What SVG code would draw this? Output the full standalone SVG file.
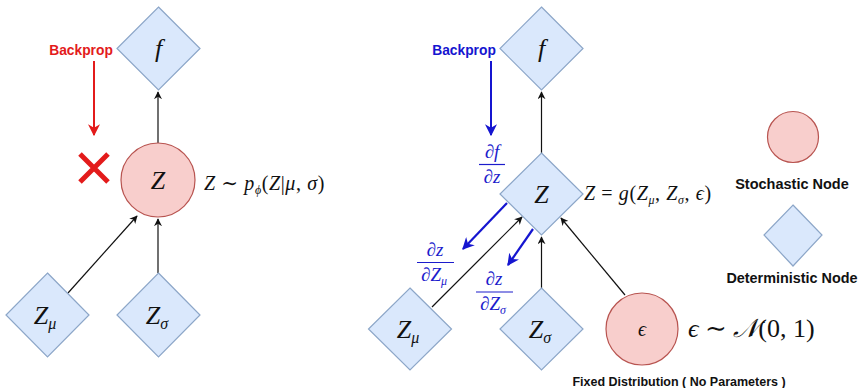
<svg xmlns="http://www.w3.org/2000/svg" width="861" height="388" viewBox="0 0 861 388">
<style>
.det{fill:#dae8fc;stroke:#8ca6c8;stroke-width:1.2}
.sto{fill:#f8cecc;stroke:#b85450;stroke-width:1.2}
.m{font-family:"Liberation Serif","DejaVu Serif",serif;font-style:italic;fill:#111}
.r{font-family:"Liberation Serif","DejaVu Serif",serif;font-style:normal}
.lbl{font-family:"Liberation Sans",Arial,sans-serif;font-weight:bold;fill:#111}
.blue{fill:#1c1ccc}
.conn{stroke:#111;stroke-width:1.2;fill:none}
</style>
<defs>
<marker id="ab" viewBox="0 0 10 10" refX="9" refY="5" markerWidth="8" markerHeight="8" orient="auto" markerUnits="userSpaceOnUse"><path d="M0,0 L10,5 L0,10 L3,5 z" fill="#111"/></marker>
<marker id="ar" viewBox="0 0 10 10" refX="9" refY="5" markerWidth="12" markerHeight="12" orient="auto" markerUnits="userSpaceOnUse"><path d="M0,0 L10,5 L0,10 L3,5 z" fill="#e31b1b"/></marker>
<marker id="abl" viewBox="0 0 10 10" refX="9" refY="5" markerWidth="12" markerHeight="12" orient="auto" markerUnits="userSpaceOnUse"><path d="M0,0 L10,5 L0,10 L3,5 z" fill="#1515d0"/></marker>
</defs>
<rect width="861" height="388" fill="#fff"/>

<g id="connectors">
<line class="conn" x1="158" y1="143" x2="158" y2="92" marker-end="url(#ab)"/>
<line class="conn" x1="68" y1="293" x2="137" y2="216" marker-end="url(#ab)"/>
<line class="conn" x1="158" y1="273" x2="158" y2="219" marker-end="url(#ab)"/>
<line x1="94" y1="61" x2="94" y2="135" stroke="#e31b1b" stroke-width="2" marker-end="url(#ar)"/>
<line class="conn" x1="541.5" y1="153" x2="541.5" y2="92" marker-end="url(#ab)"/>
<line class="conn" x1="432" y1="307" x2="522" y2="217" marker-end="url(#ab)"/>
<line class="conn" x1="541.5" y1="288" x2="541.5" y2="237" marker-end="url(#ab)"/>
<line class="conn" x1="625" y1="295" x2="561" y2="218" marker-end="url(#ab)"/>
<line x1="491" y1="61" x2="491" y2="135" stroke="#1515d0" stroke-width="2" marker-end="url(#abl)"/>
<line x1="507" y1="203" x2="463" y2="249" stroke="#1515d0" stroke-width="2.2" marker-end="url(#abl)"/>
<line x1="533" y1="229" x2="508" y2="265" stroke="#1515d0" stroke-width="2.2" marker-end="url(#abl)"/>
</g>

<g id="left-f">
<polygon class="det" points="158.5,7 200,48.5 158.5,90 117,48.5"/>
<text class="m" x="158.5" y="57" font-size="26" text-anchor="middle">f</text>
</g>
<g id="left-backprop">
<text x="81" y="55" font-family="Liberation Sans,Arial,sans-serif" font-weight="bold" font-size="13.8" fill="#e31b1b" text-anchor="middle">Backprop</text>
<path d="M80,154 L108,182 M108,154 L80,182" stroke="#e31b1b" stroke-width="5" fill="none"/>
</g>
<g id="left-Z">
<circle class="sto" cx="158" cy="180" r="37"/>
<text class="m" x="158" y="189" font-size="26" text-anchor="middle">Z</text>
<text class="m" x="204" y="190" font-size="20" letter-spacing="0.6">Z <tspan class="r">∼</tspan> p<tspan font-size="12" dy="4">ϕ</tspan><tspan class="r" dy="-4">(</tspan>Z<tspan class="r">|</tspan>μ<tspan class="r">, </tspan>σ<tspan class="r">)</tspan></text>
</g>
<g id="left-Zmu">
<polygon class="det" points="47.5,273 89,315 47.5,357 6,315"/>
<text class="m" x="45" y="324" font-size="26" text-anchor="middle">Z<tspan font-size="16" dy="5">μ</tspan></text>
</g>
<g id="left-Zsigma">
<polygon class="det" points="158.5,273 200,315 158.5,357 117,315"/>
<text class="m" x="157" y="324" font-size="26" text-anchor="middle">Z<tspan font-size="16" dy="5">σ</tspan></text>
</g>

<g id="right-f">
<polygon class="det" points="541.5,7 583,48.5 541.5,90 500,48.5"/>
<text class="m" x="541.5" y="57" font-size="26" text-anchor="middle">f</text>
</g>
<g id="right-backprop">
<text x="464" y="55" font-family="Liberation Sans,Arial,sans-serif" font-weight="bold" font-size="13.8" fill="#1515d0" text-anchor="middle">Backprop</text>
<text class="m blue" x="492" y="158" font-size="19" text-anchor="middle">∂f</text>
<line x1="479" y1="164.5" x2="505" y2="164.5" stroke="#1c1ccc" stroke-width="1.2"/>
<text class="m blue" x="492" y="183" font-size="19" text-anchor="middle">∂z</text>
</g>
<g id="right-Z">
<polygon class="det" points="541.5,153 583,194 541.5,235 500,194"/>
<text class="m" x="541.5" y="203" font-size="26" text-anchor="middle">Z</text>
<text class="m" x="584" y="200" font-size="20" letter-spacing="0.6">Z <tspan class="r">=</tspan> g<tspan class="r">(</tspan>Z<tspan font-size="12" dy="4">μ</tspan><tspan class="r" dy="-4">, </tspan>Z<tspan font-size="12" dy="4">σ</tspan><tspan class="r" dy="-4">, </tspan>ϵ<tspan class="r">)</tspan></text>
</g>
<g id="dz-dzmu">
<text class="m blue" x="435" y="256" font-size="19" text-anchor="middle">∂z</text>
<line x1="417" y1="262.5" x2="454" y2="262.5" stroke="#1c1ccc" stroke-width="1.2"/>
<text class="m blue" x="434" y="281" font-size="19" text-anchor="middle">∂Z<tspan font-size="12" dy="4">μ</tspan></text>
</g>
<g id="dz-dzsigma">
<text class="m blue" x="494" y="285" font-size="19" text-anchor="middle">∂z</text>
<line x1="476" y1="292" x2="513" y2="292" stroke="#1c1ccc" stroke-width="1.2"/>
<text class="m blue" x="493" y="310" font-size="19" text-anchor="middle">∂Z<tspan font-size="12" dy="4">σ</tspan></text>
</g>
<g id="right-Zmu">
<polygon class="det" points="410,288 451.5,329 410,370 368.5,329"/>
<text class="m" x="408" y="338" font-size="26" text-anchor="middle">Z<tspan font-size="16" dy="5">μ</tspan></text>
</g>
<g id="right-Zsigma">
<polygon class="det" points="541.5,288 583,329 541.5,370 500,329"/>
<text class="m" x="540" y="338" font-size="26" text-anchor="middle">Z<tspan font-size="16" dy="5">σ</tspan></text>
</g>
<g id="epsilon">
<circle class="sto" cx="642" cy="329" r="36"/>
<text class="m" x="642" y="336" font-size="20" text-anchor="middle">ϵ</text>
<text class="m" x="688" y="337" font-size="26">ϵ <tspan class="r">∼</tspan> 𝒩<tspan class="r">(0, 1)</tspan></text>
<text class="lbl" x="679" y="386" font-size="12.5" text-anchor="middle">Fixed Distribution ( No Parameters )</text>
</g>
<g id="legend-stochastic">
<circle class="sto" cx="793" cy="137" r="25.5"/>
<text class="lbl" x="792" y="189" font-size="14.5" text-anchor="middle">Stochastic Node</text>
</g>
<g id="legend-deterministic">
<polygon class="det" points="793,205 822,235 793,266 764,235"/>
<text class="lbl" x="792" y="283" font-size="14.4" text-anchor="middle">Deterministic Node</text>
</g>
</svg>
